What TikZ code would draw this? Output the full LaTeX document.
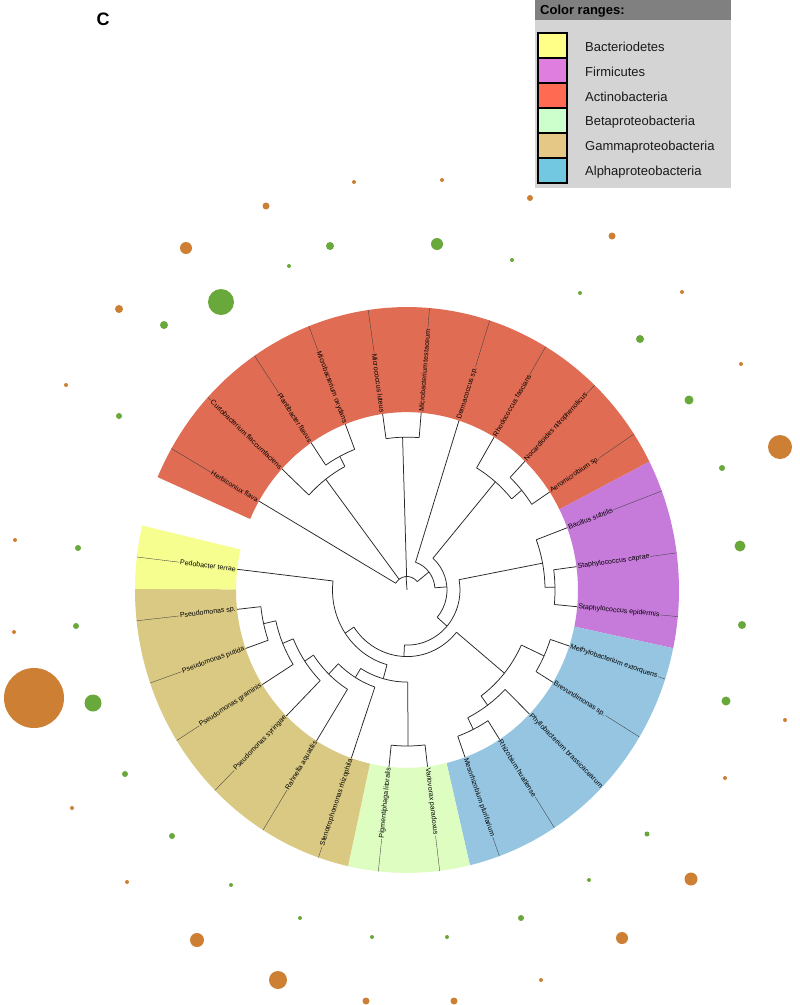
\documentclass[tikz,border=0pt]{standalone}
\usepackage{fontspec}
\setmainfont{Liberation Sans}
\definecolor{secAct}{HTML}{E06D53}
\definecolor{secFir}{HTML}{C67ADA}
\definecolor{secAlp}{HTML}{95C5E1}
\definecolor{secBet}{HTML}{DDFDC1}
\definecolor{secGam}{HTML}{D9C983}
\definecolor{secBac}{HTML}{F5FE8F}
\definecolor{legBac}{HTML}{FFFF88}
\definecolor{legFir}{HTML}{E07EE0}
\definecolor{legAct}{HTML}{FF6B52}
\definecolor{legBet}{HTML}{CCFFCC}
\definecolor{legGam}{HTML}{E6C886}
\definecolor{legAlp}{HTML}{72C8E0}
\definecolor{dotG}{HTML}{69A83B}
\definecolor{dotO}{HTML}{CD7F33}
\newcommand\stem[3]{\draw[br] (#1:#2) -- (#1:#3);}
\newcommand\tarc[3]{\draw[br] (#1:#3) arc[start angle=#1, end angle=#2, radius=#3];}
\newcommand\sect[3]{\fill[#3] (#1:171) arc[start angle=#1, end angle=#2, radius=171] -- (#2:272) arc[start angle=#2, end angle=#1, radius=272] -- cycle;}
\newcommand\leaf[4]{%
  \draw[br] (#1:#2) -- (#1:171);
  \pgfmathsetmacro\pa{atan2(1.04*sin(#1),cos(#1))}%
  \pgfmathtruncatemacro\isleft{cos(#1)<0 ? 1 : 0}%
  \ifnum\isleft=1
    \pgfmathsetmacro\rot{\pa+180}%
    \node[lab, rotate=\rot, anchor=east] (#3) at (#1:171.5) {#4};
    \draw[lf] (#3.west) -- (#1:272);
  \else
    \node[lab, rotate=\pa, anchor=west] (#3) at (#1:171.5) {#4};
    \draw[lf] (#3.east) -- (#1:272);
  \fi
}
\begin{document}
\begin{tikzpicture}[x=1pt,y=-1pt,
  br/.style={line width=0.75pt, draw=black!85},
  lf/.style={line width=0.35pt, draw=black!75},
  lab/.style={font=\fontsize{7}{8}\selectfont, inner sep=0.6pt, text=black},
  swatch/.style={draw=black, line width=1.2pt, minimum width=29pt, minimum height=25pt, inner sep=0pt},
  legtext/.style={anchor=west, font=\fontsize{13}{15}\selectfont, inner sep=0pt, text=black!90}]
\useasboundingbox (0,0) rectangle (800,1005);
\fill[white] (0,0) rectangle (800,1005);

% bubbles
\foreach \x/\y/\r in {354/182/2, 442/180/2, 530/198/3, 266/206/3.5, 186/248/6, 612/236/3.5, 119/309/4, 682/292/2, 741/364/2, 66/385/2, 780/447/12, 15/540/2, 14/632/2, 34/698/30, 785/720/2, 72/808/2, 725/778/2, 691/879/6.5, 127/882/2, 197/940/7, 622/938/6, 541/980/2, 278/980/9, 366/1001/3.5, 454/1001/3.5}
  \fill[dotO] (\x,\y) circle[radius=\r];
\foreach \x/\y/\r in {330/246/4, 437/244/6, 512/260/2, 289/266/2, 221/302/13, 580/293/2, 164/325/4, 640/339/4, 119/416/3, 689/400/4.5, 722/468/3, 740/546/5.5, 78/548/3, 76/626/3, 742/625/4, 93/703/8.5, 726/701/4.5, 125/774/3, 172/836/3, 647/834/2.5, 231/885/2, 589/880/2, 300/918/2, 521/918/3, 372/937/2, 447/937/2}
  \fill[dotG] (\x,\y) circle[radius=\r];

% label C
\node[font=\bfseries\fontsize{18}{20}\selectfont, inner sep=0pt] (panel) at (103,19) {C};

% legend
\fill[black!17] (535,20) rectangle (731,188);
\fill[black!50] (535,0) rectangle (731,20);
\node[anchor=west, font=\bfseries\fontsize{13}{15}\selectfont, inner sep=0pt] (legtitle) at (540,11) {Color ranges:};
\node[swatch, fill=legBac] (s1) at (552.5,45.5) {};
\node[swatch, fill=legFir] (s2) at (552.5,70.5) {};
\node[swatch, fill=legAct] (s3) at (552.5,95.5) {};
\node[swatch, fill=legBet] (s4) at (552.5,120.5) {};
\node[swatch, fill=legGam] (s5) at (552.5,145.5) {};
\node[swatch, fill=legAlp] (s6) at (552.5,170.5) {};
\node[legtext] (t1) at (585,47) {Bacteriodetes};
\node[legtext] (t2) at (585,72) {Firmicutes};
\node[legtext] (t3) at (585,97) {Actinobacteria};
\node[legtext] (t4) at (585,122) {Betaproteobacteria};
\node[legtext] (t5) at (585,147) {Gammaproteobacteria};
\node[legtext] (t6) at (585,172) {Alphaproteobacteria};

\begin{scope}[shift={(407,590)}, yscale=-1.04]
% colour ranges
\sect{26.975}{156.475}{secAct}
\sect{-11.875}{26.975}{secFir}
\sect{-76.625}{-11.875}{secAlp}
\sect{-102.525}{-76.625}{secBet}
\sect{-180.225}{-102.525}{secGam}
\sect{-193.175}{-180.225}{secBac}

% internal stems
\stem{117.625}{134}{145}
\stem{127.34}{13}{134}
\stem{91.725}{13}{147}
\stem{39.925}{136.5}{149.5}
\stem{49.64}{40}{136.5}
\stem{1.075}{138}{148}
\stem{10.79}{53}{138}
\stem{-24.825}{126}{151}
\stem{-63.675}{137}{149.5}
\stem{-53.96}{126}{137}
\stem{-39.39}{64}{126}
\stem{-89.575}{88.5}{150}
\stem{-167.275}{134.5}{147}
\stem{-157.56}{123}{134.5}
\stem{-146.23}{112.5}{123}
\stem{-134.09}{98.7}{112.5}
\stem{-121.55}{88.5}{98.7}
\stem{-105.56}{74.5}{88.5}
\stem{-146.13}{64}{74.5}
\stem{-92.76}{53}{64}
\stem{-40.99}{40}{53}
\stem{4.33}{28}{40}
\stem{38.3}{13}{28}
\stem{94.15}{0}{13}

% internal arcs
\tarc{111.15}{124.1}{145}
\tarc{117.625}{137.05}{134}
\tarc{85.25}{98.2}{147}
\tarc{33.45}{46.4}{149.5}
\tarc{39.925}{59.35}{136.5}
\tarc{-5.4}{7.55}{148}
\tarc{1.075}{20.5}{138}
\tarc{-31.3}{-18.35}{151}
\tarc{-70.15}{-57.2}{149.5}
\tarc{-63.675}{-44.25}{137}
\tarc{-53.96}{-24.825}{126}
\tarc{-96.05}{-83.1}{150}
\tarc{-173.75}{-160.8}{147}
\tarc{-167.275}{-147.85}{134.5}
\tarc{-157.56}{-134.9}{123}
\tarc{-146.23}{-121.95}{112.5}
\tarc{-134.09}{-109}{98.7}
\tarc{-121.55}{-89.575}{88.5}
\tarc{-186.7}{-105.56}{74.5}
\tarc{-146.13}{-39.39}{64}
\tarc{-92.76}{10.79}{53}
\tarc{-40.99}{49.64}{40}
\tarc{4.33}{72.3}{28}
\tarc{38.3}{150}{13}

% leaves
\leaf{150}{13}{l0}{Herbiconiux flava}
\leaf{137.05}{134}{l1}{Curtobacterium flaccumfaciens}
\leaf{124.1}{145}{l2}{Plantibacter flavus}
\leaf{111.15}{145}{l3}{Microbacterium oxydans}
\leaf{98.2}{147}{l4}{Micrococcus luteus}
\leaf{85.25}{147}{l5}{Microbacterium testaceum}
\leaf{72.3}{28}{l6}{Dermacoccus sp.}
\leaf{59.35}{136.5}{l7}{Rhodococcus fascians}
\leaf{46.4}{149.5}{l8}{Nocardioides nitrophenolicus}
\leaf{33.45}{149.5}{l9}{Aeromicrobium sp.}
\leaf{20.5}{138}{l10}{Bacillus subtilis}
\leaf{7.55}{148}{l11}{Staphylococcus caprae}
\leaf{-5.4}{148}{l12}{Staphylococcus epidermis}
\leaf{-18.35}{151}{l13}{Methylobacterium extorquens}
\leaf{-31.3}{151}{l14}{Brevundimonas sp.}
\leaf{-44.25}{137}{l15}{Phyllobacterium brassicacearum}
\leaf{-57.2}{149.5}{l16}{Rhizobium huatlense}
\leaf{-70.15}{149.5}{l17}{Mesorhizobium plurifarium}
\leaf{-83.1}{150}{l18}{Variovorax paradoxus}
\leaf{-96.05}{150}{l19}{Pigmentiphaga litoralis}
\leaf{-109}{98.7}{l20}{Stenotrophomonas rhizophila}
\leaf{-121.95}{112.5}{l21}{Rahnella aquatilis}
\leaf{-134.9}{123}{l22}{Pseudomonas syringae}
\leaf{-147.85}{134.5}{l23}{Pseudomonas graminis}
\leaf{-160.8}{147}{l24}{Pseudomonas putida}
\leaf{-173.75}{147}{l25}{Pseudomonas sp.}
\leaf{-186.7}{74.5}{l26}{Pedobacter terrae}
\end{scope}
\end{tikzpicture}
\end{document}
